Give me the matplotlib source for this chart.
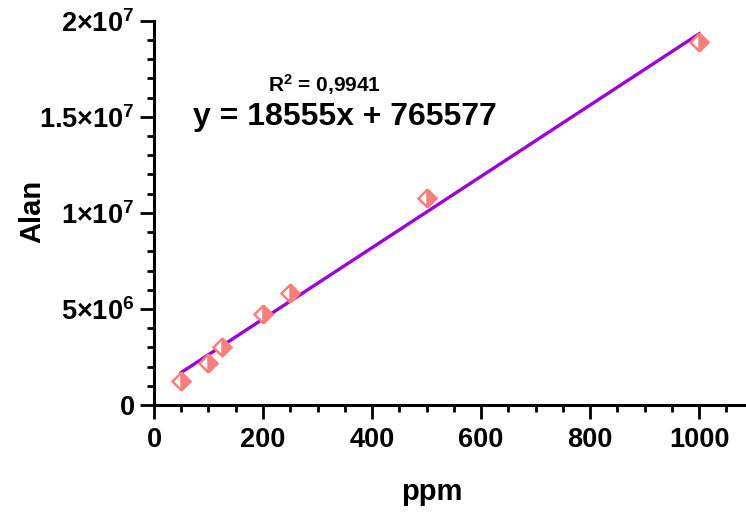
import matplotlib
matplotlib.use("Agg")
import matplotlib.pyplot as plt
from matplotlib.ticker import MultipleLocator, FixedLocator
import numpy as np

plt.rcParams['font.family'] = ['Liberation Sans', 'DejaVu Sans']
plt.rcParams['font.weight'] = 'bold'
plt.rcParams['mathtext.fontset'] = 'custom'
plt.rcParams['mathtext.rm'] = 'Liberation Sans:bold'
plt.rcParams['mathtext.bf'] = 'Liberation Sans:bold'
plt.rcParams['mathtext.it'] = 'Liberation Sans:bold'

# Calibration standards
ppm = [50, 100, 125, 200, 250, 500, 1000]
area = [1.25e6, 2.19e6, 3.02e6, 4.74e6, 5.83e6, 10.78e6, 18.9e6]

# Linear fit reported for the calibration
slope = 18555
intercept = 765577
r2_text = "0,9941"

y_ticks = [0, 5e6, 1e7, 1.5e7, 2e7]
y_tick_labels = ["0", r"$5{\times}10^{6}$", r"$1{\times}10^{7}$",
                 r"$1.5{\times}10^{7}$", r"$2{\times}10^{7}$"]

fig = plt.figure(figsize=(7.46, 5.14), dpi=100)
ax = fig.add_axes([0.2064, 0.212, 0.7936, 0.7477])

fit_x = np.array([min(ppm), max(ppm)])
ax.plot(fit_x, slope * fit_x + intercept, color='#9c00d6', lw=2.4, zorder=2)

ax.plot(ppm, area, linestyle='none', marker='D', markersize=9.5,
        fillstyle='right', markerfacecolor='#f7807c', markerfacecoloralt='white',
        markeredgecolor='#f7807c', markeredgewidth=1.8, zorder=3)

ax.set_xlim(0, 1086)
ax.set_ylim(0, 2e7)
ax.xaxis.set_major_locator(MultipleLocator(200))
ax.xaxis.set_minor_locator(MultipleLocator(50))
ax.yaxis.set_major_locator(FixedLocator(y_ticks))
ax.set_yticklabels(y_tick_labels)
ax.yaxis.set_minor_locator(MultipleLocator(1e6))

for s in ('top', 'right'):
    ax.spines[s].set_visible(False)
for s in ('left', 'bottom'):
    ax.spines[s].set_linewidth(2.2)

ax.tick_params(which='major', length=10, width=2, labelsize=19.5, pad=4)
ax.tick_params(axis='x', which='major', pad=6)
ax.tick_params(which='minor', length=5, width=2)
for lab in ax.get_xticklabels() + ax.get_yticklabels():
    lab.set_fontweight('bold')

ax.set_xlabel('ppm', fontsize=21, fontweight='bold')
ax.set_ylabel('Alan', fontsize=21, fontweight='bold')
ax.xaxis.label.set_va('center')
ax.yaxis.label.set_va('center')
ax.xaxis.set_label_coords(0.47, -0.225)
ax.yaxis.set_label_coords(-0.206, 0.503)

ax.text(313, 1.667e7, r"R$^{2}$ = " + r2_text, fontsize=15, fontweight='bold',
        ha='center', va='center')
ax.text(350, 1.50e7, f"y = {slope}x + {intercept}", fontsize=23,
        fontweight='bold', ha='center', va='center')

fig.savefig('out.png', dpi=100)
